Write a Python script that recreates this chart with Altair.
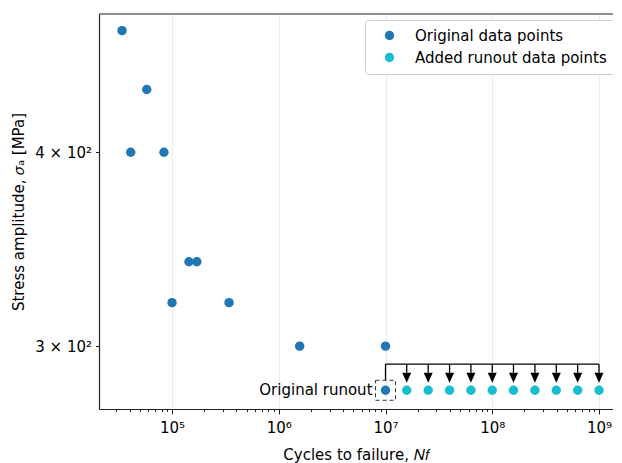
import altair as alt
import pandas as pd

# ---- data ----
orig_cycles = [3.4e4, 5.8e4, 4.1e4, 8.4e4, 1.0e5, 1.44e5, 1.71e5, 3.42e5, 1.57e6, 1.0e7]
orig_stress = [479, 439, 400, 400, 320, 340, 340, 320, 300, 300]

runout_cycles = [1.0e7]
runout_stress = [281]

added_cycles = [1.58e7, 2.51e7, 3.98e7, 6.31e7, 1.0e8, 1.58e8, 2.51e8, 3.98e8, 6.31e8, 1.0e9]
added_stress = [281] * 10

arrow_line_y = [292.1]
arrow_head_y = [286.3]
arrow_base_y = [288.4]
box_top_y = [285.2]

series_names = ["Original data points", "Added runout data points"]
series_colors = ["#1f77b4", "#17becf"]
runout_label = ["Original runout"]

x_major = [1e5, 1e6, 1e7, 1e8, 1e9]
x_minor = [m * 10 ** e for e in range(4, 10) for m in range(2, 10)]
x_domain = [20700, 1.352e9]
y_ticks = [300, 400]
y_domain = [273.3, 491]

W, H = 514, 395
FONT = "DejaVu Sans"
FS = 15

# ---- tables ----
pts = pd.DataFrame({
    "cycles": orig_cycles + runout_cycles + added_cycles,
    "stress": orig_stress + runout_stress + added_stress,
    "series": [series_names[0]] * (len(orig_cycles) + len(runout_cycles))
              + [series_names[1]] * len(added_cycles),
})
hline = pd.DataFrame({"x": [runout_cycles[0]], "x2": [added_cycles[-1]], "y": arrow_line_y})
vline = pd.DataFrame({"x": runout_cycles, "y": arrow_line_y, "y2": box_top_y})
shafts = pd.DataFrame({"x": added_cycles, "y": arrow_line_y * len(added_cycles),
                       "y2": arrow_base_y * len(added_cycles)})
heads = pd.DataFrame({"x": added_cycles, "y": arrow_head_y * len(added_cycles)})
runout = pd.DataFrame({"x": runout_cycles, "y": runout_stress, "label": runout_label})

ticks_all = sorted(set(x_major + [v for v in x_minor if x_domain[0] <= v <= x_domain[1]]))
is_major = "abs(log(datum.value)/LN10 - round(log(datum.value)/LN10)) < 0.001"

xscale = alt.Scale(type="log", domain=x_domain, nice=False)
yscale = alt.Scale(type="log", domain=y_domain, nice=False, zero=False)

xaxis = alt.Axis(
    values=ticks_all,
    labelExpr="(" + is_major + ") ? '10' + ['⁰','¹','²','³','⁴','⁵','⁶','⁷','⁸','⁹'][round(log(datum.value)/LN10)] : ''",
    tickSize={"condition": {"test": is_major, "value": 5}, "value": 2.5},
    grid=True,
    gridOpacity={"condition": {"test": is_major, "value": 1}, "value": 0},
    gridColor="#ebebeb",
    title="Cycles to failure, 𝑁𝑓",
    labelFlush=False,
    labelOverlap=False,
)
yaxis = alt.Axis(
    values=y_ticks,
    labelExpr="(datum.value/100) + ' × 10²'",
    tickSize=3.5,
    grid=False,
    title="Stress amplitude, 𝜎ₐ [MPa]",
)

X = alt.X("cycles:Q", scale=xscale, axis=xaxis)
Y = alt.Y("stress:Q", scale=yscale, axis=yaxis)

points = alt.Chart(pts).mark_circle(size=88, opacity=1).encode(
    x=X, y=Y,
    color=alt.Color("series:N", scale=alt.Scale(domain=series_names, range=series_colors),
                    sort=series_names,
                    legend=alt.Legend(title=None, orient="none", legendX=266, legendY=6,
                                      fillColor="white", strokeColor="#cccccc",
                                      cornerRadius=3, padding=8, symbolOffset=9,
                                      labelOffset=18, rowPadding=6,
                                      labelFontSize=FS, labelFont=FONT,
                                      symbolType="circle", symbolSize=88,
                                      labelLimit=400)),
)

sx = alt.X("x:Q", scale=xscale, axis=xaxis)
sy = alt.Y("y:Q", scale=yscale, axis=yaxis)

h_rule = alt.Chart(hline).mark_rule(color="black", strokeWidth=1.3).encode(x=sx, x2="x2:Q", y=sy)
v_rule = alt.Chart(vline).mark_rule(color="black", strokeWidth=1.3).encode(x=sx, y=sy, y2="y2:Q")
shaft_rules = alt.Chart(shafts).mark_rule(color="black", strokeWidth=1.3).encode(x=sx, y=sy, y2="y2:Q")
head_marks = alt.Chart(heads).mark_point(
    shape="M-0.9,-1L0.9,-1L0,1Z", filled=True, color="black", opacity=1, size=100
).encode(x=sx, y=sy)
box = alt.Chart(runout).mark_point(
    shape="square", size=400, filled=False, color="#333333", strokeWidth=1,
    strokeDash=[4, 3], opacity=1
).encode(x=sx, y=sy)
label = alt.Chart(runout).mark_text(
    align="right", baseline="middle", dx=-13, fontSize=FS, font=FONT, color="black"
).encode(x=sx, y=sy, text="label:N")

top_spine = alt.Chart(pd.DataFrame({"a": [0]})).mark_rule(color="#222222", strokeWidth=1.2).encode(
    x=alt.value(0), x2=alt.value(W + 20), y=alt.value(0)
)

chart = alt.layer(
    h_rule, v_rule, shaft_rules, head_marks, box, label, points, top_spine
).properties(
    width=W, height=H,
    autosize=alt.AutoSizeParams(type="none"),
    padding={"left": 91, "top": 6, "right": 0, "bottom": 58},
).configure_view(
    stroke=None
).configure_axis(
    labelFont=FONT, titleFont=FONT, labelFontSize=FS, titleFontSize=FS,
    labelColor="black", titleColor="black", titleFontWeight="normal",
    domainColor="#222222", domainWidth=1.2, tickColor="#222222", tickWidth=1,
    labelPadding=4,
).configure_axisX(labelPadding=6, titlePadding=12).configure_axisY(titlePadding=8)

chart.save("out.html", embed_options={"renderer": "svg", "actions": False})
